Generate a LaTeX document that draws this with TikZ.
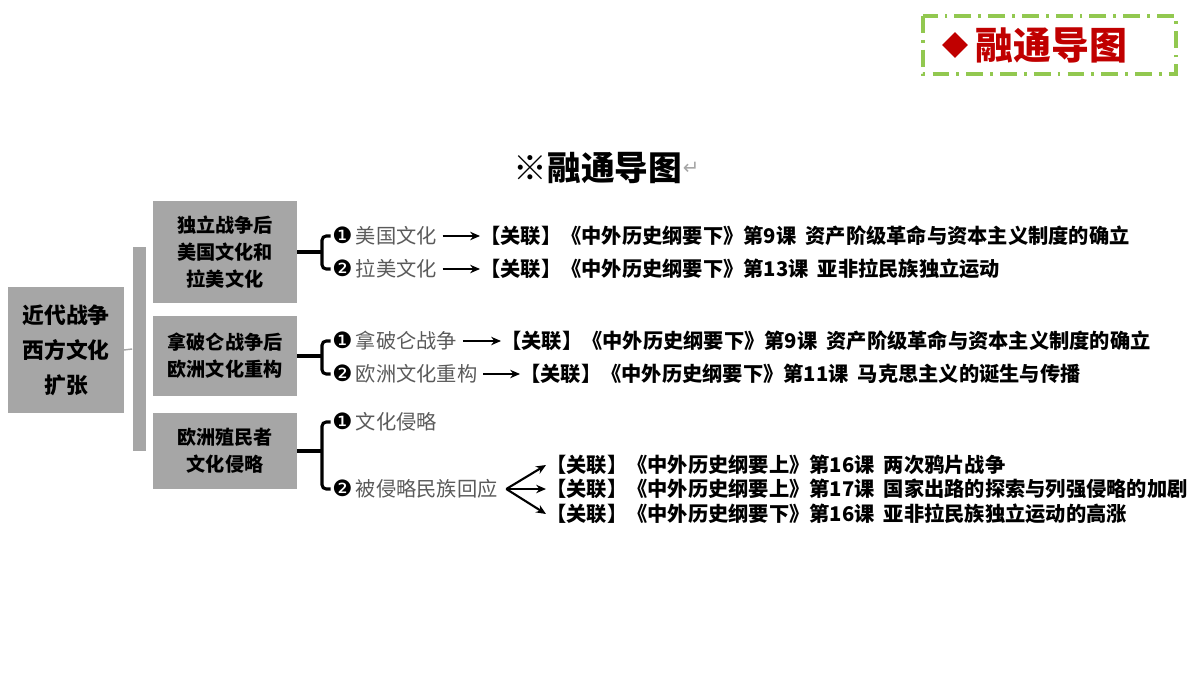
\documentclass[tikz,border=0pt]{standalone}
\usepackage{fontspec}
\setmainfont{Noto Sans CJK SC}
\newfontfamily\dv{DejaVu Sans}
\usetikzlibrary{arrows.meta}
\definecolor{boxg}{RGB}{166,166,166}
\definecolor{txtg}{RGB}{90,90,90}
\definecolor{myred}{RGB}{192,0,0}
\definecolor{mygreen}{RGB}{146,200,80}
\tikzset{
 gbox/.style={fill=boxg,inner sep=0pt,align=center,font=\fontsize{13.6}{19}\selectfont\bfseries},
 item/.style={anchor=west,inner sep=0pt,text=txtg,font=\fontsize{14.4}{16}\selectfont},
 rel/.style={anchor=west,inner sep=0pt,font=\fontsize{14.4}{16}\selectfont\bfseries},
 brk/.style={line width=2.2pt,rounded corners=3pt},
 arr/.style={-{Stealth[length=7pt,width=6pt]},line width=1.5pt}
}
\newcommand{\nA}{{\color{black}\dv\fontsize{16}{16}\selectfont ❶}\,}
\newcommand{\nB}{{\color{black}\dv\fontsize{16}{16}\selectfont ❷}\,}
\begin{document}
\begin{tikzpicture}[x=0.025cm,y=-0.025cm]
\useasboundingbox (0,0) rectangle (1200,675);
% top right tag
\draw[mygreen,line width=2.4pt,dash pattern=on 12pt off 5pt on 2pt off 5pt] (923,16) rectangle (1176,74);
\node[fill=myred,rotate=45,minimum size=13pt,inner sep=0pt] (dia) at (955,45) {};
\node[anchor=west,inner sep=0pt,text=myred,font=\fontsize{27}{30}\selectfont\bfseries] (tag) at (975,45) {融通导图};
% title
\node[inner sep=0pt,font=\fontsize{24}{28}\selectfont\bfseries] (title) at (598,168) {※融通导图};
\node[anchor=west,inner sep=0pt,text=boxg,font=\dv\fontsize{14}{16}\selectfont] (ret) at (title.east) {↵};
% left box
\node[gbox,minimum width=2.875cm,minimum height=3.15cm,font=\fontsize{15.5}{25}\selectfont\bfseries] (main) at (66,350) {近代战争\\西方文化\\扩张};
\node[fill=boxg,minimum width=0.325cm,minimum height=5.1cm,inner sep=0pt] (bar) at (139,349) {};
\draw[boxg,line width=1pt] (main.east) -- (bar.west);
% boxes
\node[gbox,minimum width=3.6cm,minimum height=2.55cm] (b1) at (225,252) {独立战争后\\美国文化和\\拉美文化};
\node[gbox,minimum width=3.6cm,minimum height=1.975cm] (b2) at (225,356) {拿破仑战争后\\欧洲文化重构};
\node[gbox,minimum width=3.6cm,minimum height=1.875cm] (b3) at (225,451) {欧洲殖民者\\文化侵略};
% items
\node[item] (i1) at (332,236) {\nA 美国文化};
\node[item] (i2) at (332,269) {\nB 拉美文化};
\node[item] (i3) at (332,341) {\nA 拿破仑战争};
\node[item] (i4) at (332,374) {\nB 欧洲文化重构};
\node[item] (i5) at (332,422) {\nA 文化侵略};
\node[item] (i6) at (332,489) {\nB 被侵略民族回应};
% relations
\node[rel] (r1) at (480,236) {【关联】《中外历史纲要下》第9课\ \ 资产阶级革命与资本主义制度的确立};
\node[rel] (r2) at (480,269) {【关联】《中外历史纲要下》第13课\ \ 亚非拉民族独立运动};
\node[rel] (r3) at (501,341) {【关联】《中外历史纲要下》第9课\ \ 资产阶级革命与资本主义制度的确立};
\node[rel] (r4) at (520,374) {【关联】《中外历史纲要下》第11课\ \ 马克思主义的诞生与传播};
\node[rel] (r5) at (546,465) {【关联】《中外历史纲要上》第16课\ \ 两次鸦片战争};
\node[rel] (r6) at (546,489) {【关联】《中外历史纲要上》第17课\ \ 国家出路的探索与列强侵略的加剧};
\node[rel] (r7) at (546,514) {【关联】《中外历史纲要下》第16课\ \ 亚非拉民族独立运动的高涨};
% brackets
\draw[brk] ([xshift=-1]i1.west) -| (322,269) -- ([xshift=-1]i2.west);
\draw[line width=2.2pt] (b1.east) -- (322,252);
\draw[brk] ([xshift=-1]i3.west) -| (322,374) -- ([xshift=-1]i4.west);
\draw[line width=2.2pt] (b2.east) -- (322,356);
\draw[brk] ([xshift=-1]i5.west) -| (322,489) -- ([xshift=-1]i6.west);
\draw[line width=2.2pt] (b3.east) -- (322,451);
% arrows
\draw[arr] ([xshift=4]i1.east) -- (r1.west);
\draw[arr] ([xshift=4]i2.east) -- (r2.west);
\draw[arr] ([xshift=4]i3.east) -- (r3.west);
\draw[arr] ([xshift=4]i4.east) -- (r4.west);
\coordinate (fan) at ([xshift=6]i6.east);
\draw[arr] (fan) -- (r5.west);
\draw[arr] (fan) -- (r6.west);
\draw[arr] (fan) -- (r7.west);
\end{tikzpicture}
\end{document}
